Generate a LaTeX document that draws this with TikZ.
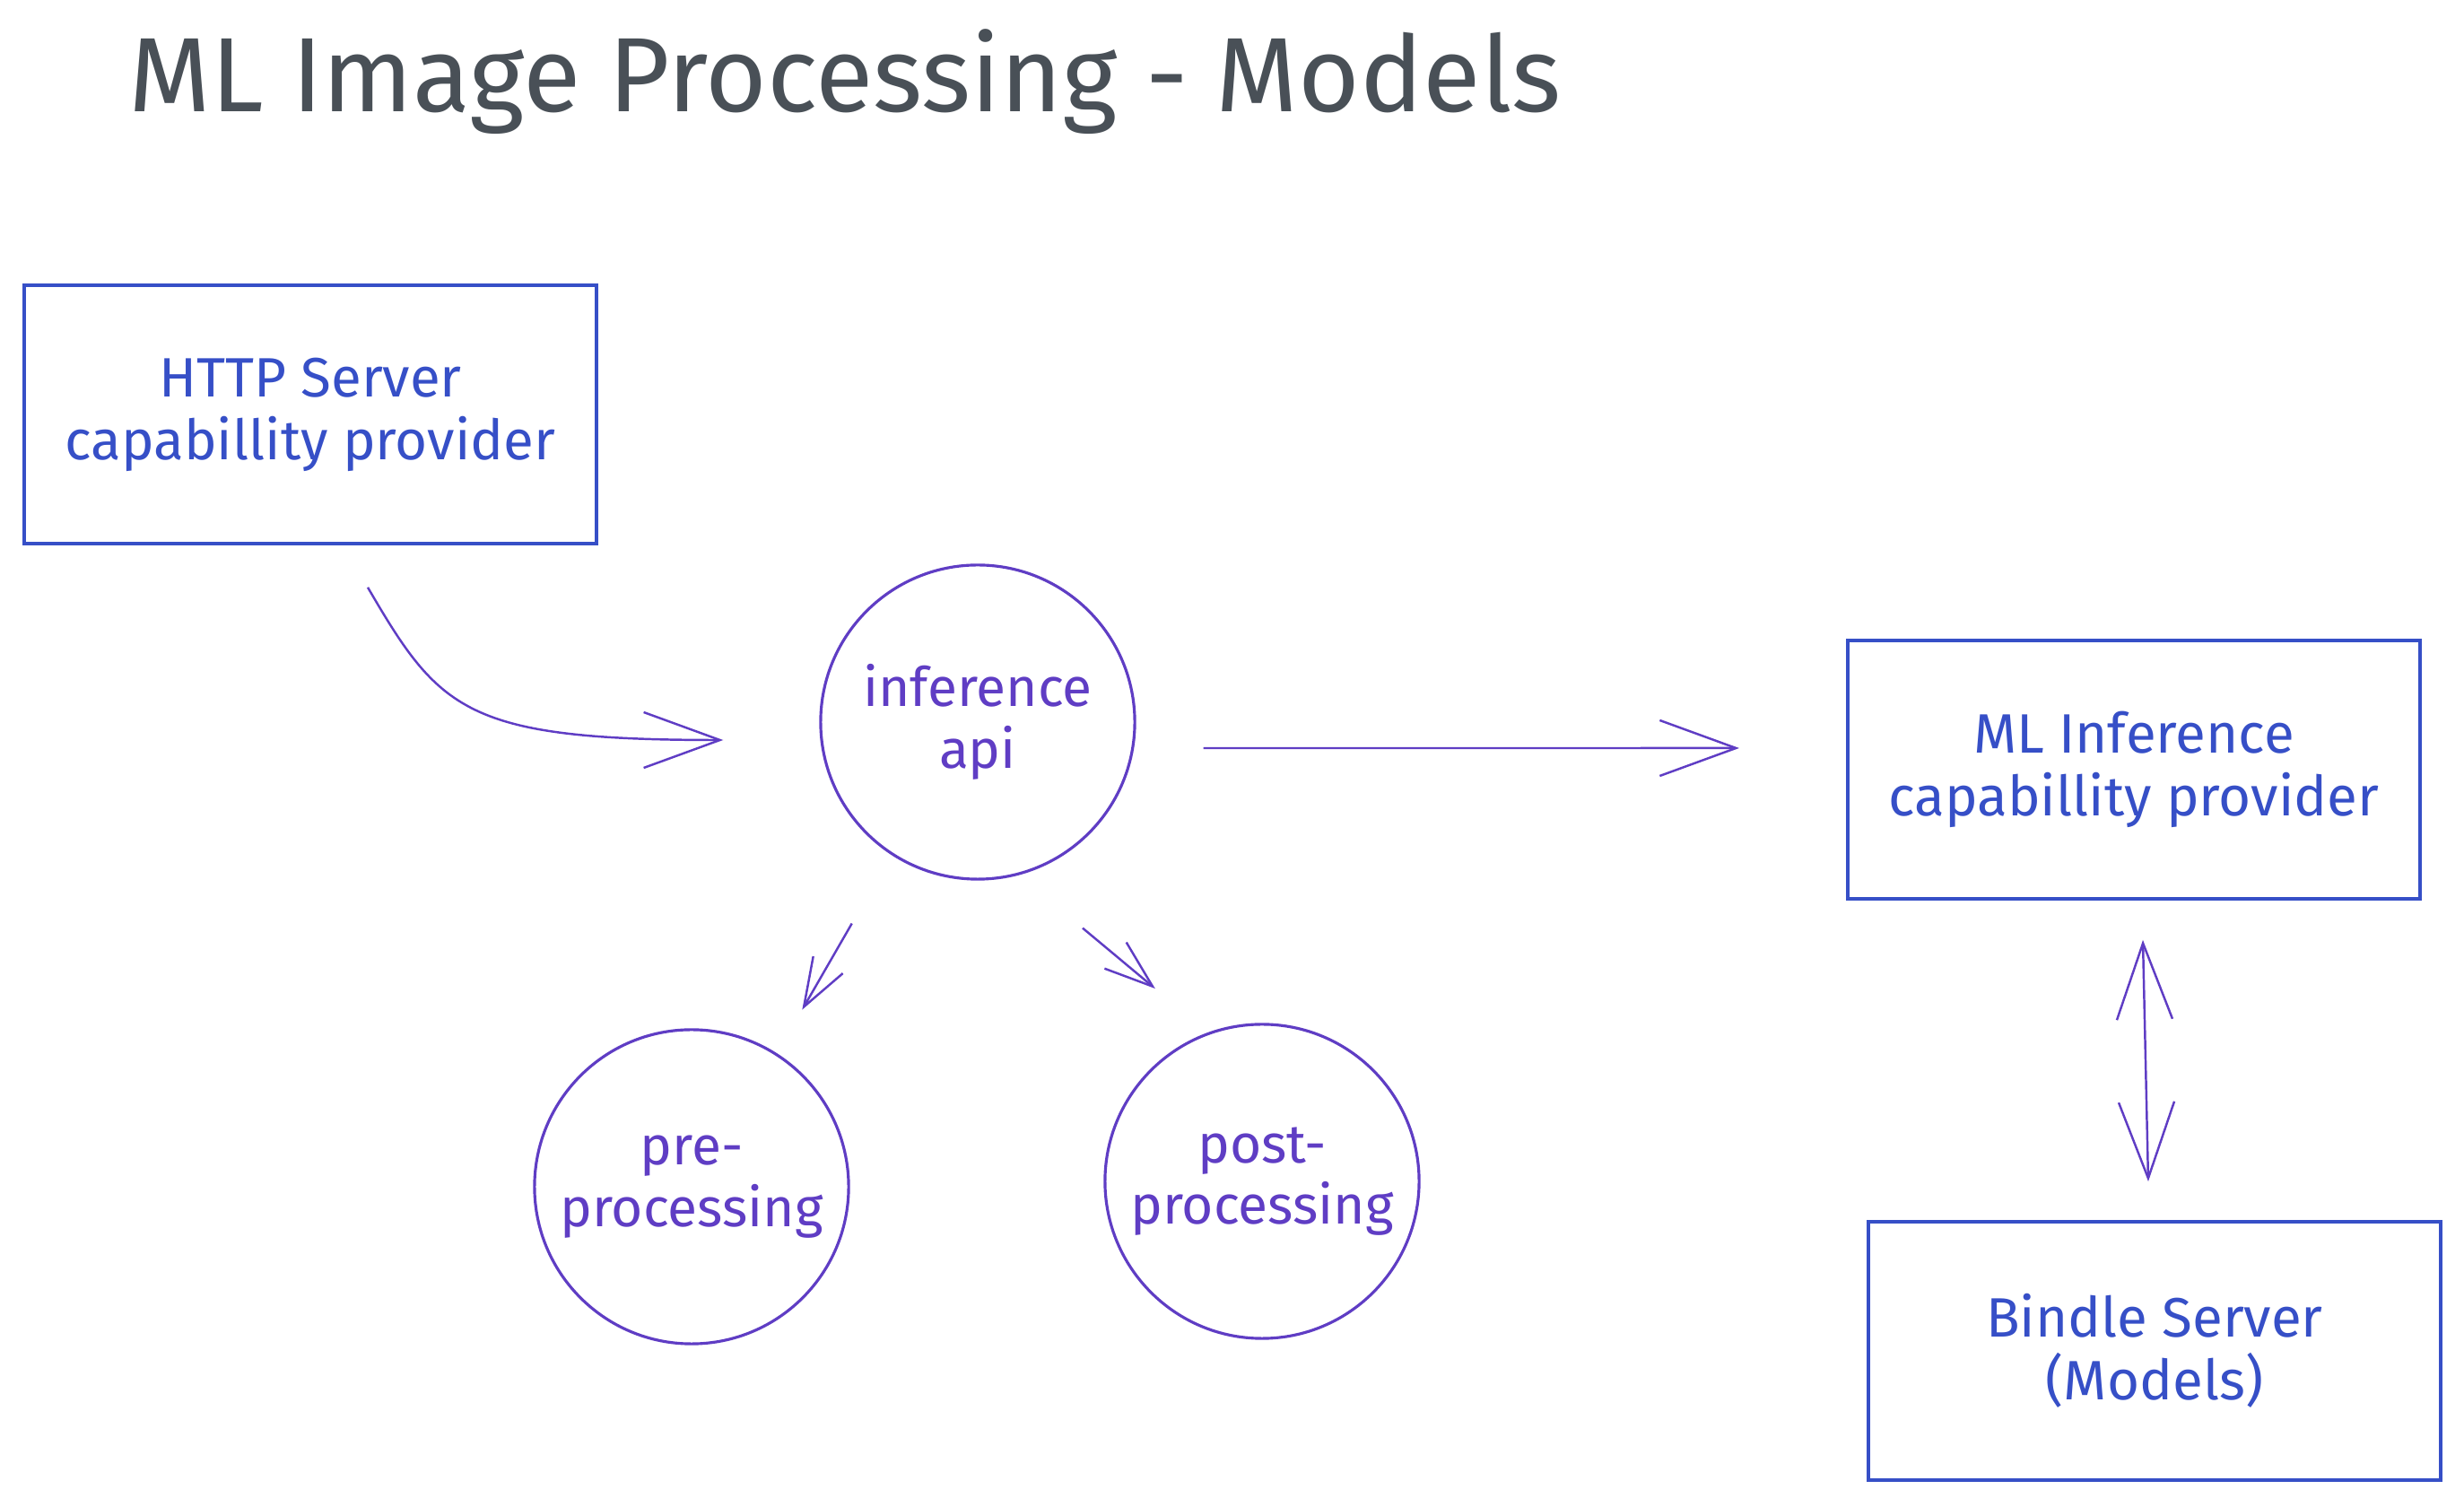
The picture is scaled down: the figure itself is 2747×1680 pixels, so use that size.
\documentclass[tikz,border=0pt]{standalone}
\usepackage{fontspec}
\setmainfont{Fira Sans}
\usepackage{xcolor}
\usetikzlibrary{arrows.meta}
\definecolor{boxblue}{HTML}{364FC7}
\definecolor{ballviolet}{HTML}{5F3DC4}
\definecolor{titlegray}{HTML}{495057}

\begin{document}
\begin{tikzpicture}[
    x=0.01cm, y=-0.01cm,
    title/.style = {
        text=titlegray,
        font=\fontsize{33.5}{40}\selectfont,
        inner sep=0pt
    },
    box/.style = {
        draw=boxblue,
        line width=1pt,
        text=boxblue,
        align=center,
        minimum width=6.38cm,
        minimum height=2.88cm,
        font=\fontsize{17.6}{19.9}\selectfont
    },
    ball/.style = {
        circle,
        draw=ballviolet,
        line width=0.9pt,
        text=ballviolet,
        align=center,
        inner sep=0pt,
        minimum size=3.5cm,
        font=\fontsize{17.2}{19.5}\selectfont
    },
    flow/.style = {draw=ballviolet, line width=0.7pt, -{Straight Barb[length=8.5mm, width=6.2mm]}},
    both/.style = {draw=ballviolet, line width=0.7pt, {Straight Barb[length=8.5mm, width=6.2mm]}-{Straight Barb[length=8.5mm, width=6.2mm]}},
    fork/.style = {draw=ballviolet, line width=0.7pt, -{Straight Barb[length=5.4mm, width=3.8mm]}}
]
    \useasboundingbox (0,0) rectangle (2747,1680);

    % Title
    \node[title, anchor=base west] (head) at (143,125) {ML Image Processing - Models};

    % Draw all boxes
    \node[box] (http) at (346,462) {HTTP Server\\capabillity provider};
    \node[box] (mlinf) at (2379,858) {ML Inference\\capabillity provider};
    \node[box] (bindle) at (2402,1506) {Bindle Server\\(Models)};

    % Draw all circles
    \node[ball] (infer) at (1090,805) {inference\\api};
    \node[ball] (pre) at (771,1323) {pre-\\processing};
    \node[ball] (post) at (1407,1317) {post-\\processing};

    \draw[flow] ([xshift=6.4mm,yshift=-4.7mm]http.south) .. controls +(80,137) and +(-288,0) .. ([xshift=-10.7mm,yshift=-2mm]infer.west);
    \draw[flow] ([xshift=7.5mm,yshift=-2.9mm]infer.east) -- ([xshift=-11.9mm,yshift=2.4mm]mlinf.west);
    \draw[both] ([xshift=1mm,yshift=-4.4mm]mlinf.south) -- ([xshift=-0.7mm,yshift=4.3mm]bindle.north);
    \draw[fork] ([shift={(238:8.8mm)}]infer.238) -- ([shift={(58:5.6mm)}]pre.58); % pre
    \draw[fork] ([shift={(297:8.1mm)}]infer.297) -- ([shift={(119:6.9mm)}]post.119); % post

\end{tikzpicture}
\end{document}
